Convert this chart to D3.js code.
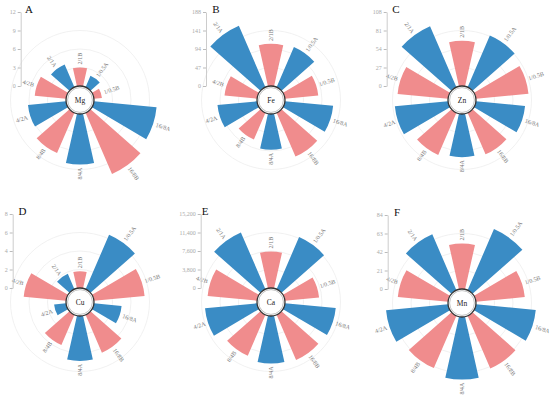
<!DOCTYPE html>
<html>
<head>
<meta charset="utf-8">
<script src="https://cdn.jsdelivr.net/npm/d3@7"></script>
<style>
  body { margin: 0; background: #fff; }
  text { font-family: "Liberation Serif", "DejaVu Serif", serif; }
</style>
</head>
<body>
<svg id="chart" width="550" height="399"></svg>
<script>
// categories go clockwise starting at 12 o'clock
var categories = ["2/1B", "1/0.5A", "1/0.5B", "16/8A", "16/8B", "8/4A", "8/4B", "4/2A", "4/2B", "2/1A"];
var panelLetters = ["A", "B", "C", "D", "E", "F"];
var elements = ["Mg", "Fe", "Zn", "Cu", "Ca", "Mn"];
var axisMax = [12, 188, 108, 8, 15200, 84];

var mgValues = [3.0, 2.0, 1.3, 10.2, 10.8, 8.2, 7.1, 6.2, 5.1, 4.0];
var feValues = [107, 111, 85, 123, 121, 91, 74, 101, 83, 170];
var znValues = [66, 82, 77, 72, 66, 63, 67, 78, 74, 97];
var cuValues = [1.8, 6.4, 5.5, 3.0, 4.45, 4.85, 3.55, 1.3, 4.6, 1.8];
var caValues = [7500, 11650, 7040, 10480, 10100, 9760, 9140, 10740, 10200, 12700];
var mnValues = [51.6, 75.5, 55.7, 68.2, 65, 71, 64.6, 70.7, 57.3, 69];

var allValues = [mgValues, feValues, znValues, cuValues, caValues, mnValues];

// where each little chart sits on the page
var layout = [
  {cx: 80,  cy: 100, axisX: 20.7,  titleX: 29},
  {cx: 271, cy: 100, axisX: 206,   titleX: 216},
  {cx: 462, cy: 100, axisX: 386.7, titleX: 396},
  {cx: 80,  cy: 302, axisX: 12.7,  titleX: 22.5},
  {cx: 271, cy: 302, axisX: 200.7, titleX: 205},
  {cx: 462, cy: 303, axisX: 387.7, titleX: 397}
];

var innerR = 14, outerR = 88;
var blue = "#3a8cc5", pink = "#f08c8d";

var svg = d3.select("#chart");

// band per category, 30% gap between wedges
var angle = d3.scaleBand()
  .domain(categories)
  .range([0, 2 * Math.PI])
  .paddingInner(0.3)
  .paddingOuter(0.15);

// angle of the middle of a wedge (first one points straight up)
function midAngle(c) { return angle(c) + angle.bandwidth() / 2 - angle.step() / 2; }

panelLetters.forEach(function(letter, i) {
  var L = layout[i];
  var vals = allValues[i];
  var max = axisMax[i];
  var ticks = d3.range(5).map(k => max * k / 4);
  var fmt = max >= 1000 ? d3.format(",") : d3.format("d");

  var rScale = d3.scaleLinear().domain([0, max]).range([innerR, outerR]);

  var g = svg.append("g").attr("transform", "translate(" + L.cx + "," + L.cy + ")");

  // grid rings
  g.selectAll(".ring")
    .data(ticks.slice(1, 4))
    .enter()
    .append("circle")
      .attr("r", d => rScale(d))
      .attr("fill", "none")
      .attr("stroke", "#ededed")
      .attr("stroke-width", 0.8);

  var rows = categories.map((c, j) => ({c: c, v: vals[j]}));

  var wedge = d3.arc()
    .innerRadius(innerR)
    .outerRadius(d => rScale(d.v))
    .startAngle(d => midAngle(d.c) - angle.bandwidth() / 2)
    .endAngle(d => midAngle(d.c) + angle.bandwidth() / 2);

  g.selectAll(".bar")
    .data(rows)
    .enter()
    .append("path")
      .attr("d", wedge)
      .attr("fill", d => d.c.slice(-1) == "A" ? blue : pink);

  // labels at the end of each bar, radial
  g.selectAll(".lab")
    .data(rows)
    .enter()
    .append("text")
      .attr("transform", function(d) {
        var a = midAngle(d.c);
        var r = rScale(d.v) + 3;
        var deg = a * 180 / Math.PI;
        var x = r * Math.sin(a), y = -r * Math.cos(a);
        var rot = deg <= 180 ? deg - 90 : deg + 90;
        return "translate(" + x + "," + y + ") rotate(" + rot + ")";
      })
      .attr("text-anchor", d => midAngle(d.c) * 180 / Math.PI <= 180 ? "start" : "end")
      .attr("dy", "0.35em")
      .style("font-size", "6px")
      .style("fill", "#777")
      .text(d => d.c);

  // center disc
  g.append("circle").attr("r", innerR).attr("fill", "#fff").attr("stroke", "#333").attr("stroke-width", 1.3);
  g.append("circle").attr("r", innerR - 1.6).attr("fill", "none").attr("stroke", "#999").attr("stroke-width", 0.6);
  g.append("text")
    .attr("text-anchor", "middle")
    .attr("dy", "0.35em")
    .style("font-size", "7.5px")
    .style("fill", "#222")
    .text(elements[i]);

  // vertical value axis on the left
  var yScale = d3.scaleLinear().domain([0, max]).range([L.cy - innerR, L.cy - outerR]);
  var yAxis = d3.axisLeft(yScale)
    .tickValues(ticks)
    .tickFormat(fmt)
    .tickSize(3)
    .tickSizeOuter(0)
    .tickPadding(2);
  var ag = svg.append("g")
    .attr("transform", "translate(" + L.axisX + ",0)")
    .call(yAxis);
  ag.select(".domain").attr("stroke", "#ccc");
  ag.selectAll(".tick line").attr("stroke", "#bbb");
  ag.selectAll(".tick text")
    .style("font-family", "Liberation Serif, serif")
    .style("font-size", "6px")
    .attr("fill", "#aaa");

  svg.append("text")
    .attr("x", L.titleX)
    .attr("y", L.cy - 87)
    .attr("text-anchor", "middle")
    .style("font-size", "11px")
    .style("fill", "#111")
    .text(letter);
});
</script>
</body>
</html>
